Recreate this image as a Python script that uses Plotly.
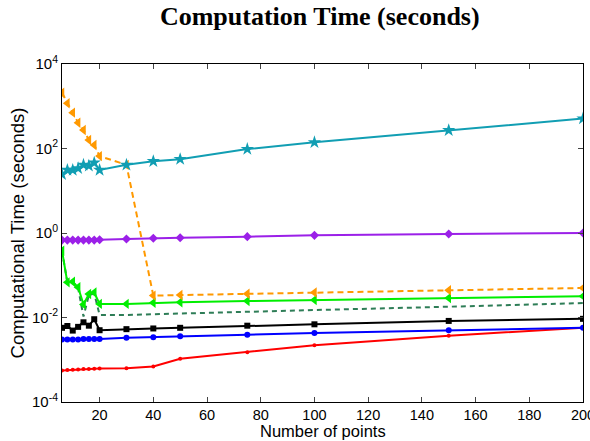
import plotly.graph_objects as go

x_pts = [6, 8, 10, 12, 14, 16, 18, 20, 30, 40, 50, 75, 100, 150, 200]

cyan_star = [24.5, 31, 31, 34, 41, 39, 46, 31, 41, 50, 56, 97, 140, 270, 510]
purple_diamond = [0.68, 0.68, 0.68, 0.68, 0.68, 0.68, 0.68, 0.69, 0.72, 0.75, 0.77, 0.82, 0.88, 0.95, 1.0]
orange_tri = [2090, 1180, 705, 408, 273, 159, 121, 66, 41, 0.033, 0.034, 0.0365, 0.039, 0.044, 0.050]
green_tri = [0.38, 0.068, 0.070, 0.052, 0.0204, 0.036, 0.039, 0.021, 0.021, 0.0224, 0.023, 0.0245, 0.026, 0.029, 0.032]
darkgreen_dash = [0.38, 0.068, 0.070, 0.050, 0.0105, 0.034, 0.037, 0.0115, 0.0115, 0.012, 0.0125, 0.0138, 0.015, 0.018, 0.022]
black_sq = [0.0057, 0.0063, 0.0049, 0.0060, 0.0077, 0.0064, 0.0091, 0.0050, 0.0053, 0.0055, 0.0057, 0.0064, 0.0069, 0.0083, 0.0093]
blue_circ = [0.0030, 0.0030, 0.0030, 0.0030, 0.0031, 0.0031, 0.0031, 0.0031, 0.0033, 0.0034, 0.0036, 0.0039, 0.0043, 0.0050, 0.0057]
red_dot = [0.00056, 0.00057, 0.00058, 0.00059, 0.00060, 0.00060, 0.00061, 0.00062, 0.00063, 0.00069, 0.00106, 0.0015, 0.0022, 0.0037, 0.0057]

y_tickvals = [1e-4, 1e-2, 1, 1e2, 1e4]
y_ticktext = ["10<sup>-4</sup>", "10<sup>-2</sup>", "10<sup>0</sup>", "10<sup>2</sup>", "10<sup>4</sup>"]
x_tickvals = [20, 40, 60, 80, 100, 120, 140, 160, 180, 200]

fig = go.Figure()

def add(y, color, symbol, size, dash="solid", mode="lines+markers", width=2):
    fig.add_trace(go.Scatter(
        x=x_pts, y=y, mode=mode,
        line=dict(color=color, width=width, dash=dash),
        marker=dict(symbol=symbol, size=size, color=color),
        showlegend=False,
    ))

add(darkgreen_dash, "#2E7D57", "circle", 1, dash="5px,4px", mode="lines")
add(red_dot, "#FF0000", "circle", 4)
add(blue_circ, "#0000FF", "circle", 6)
add(black_sq, "#000000", "square", 6)
add(green_tri, "#00EE00", "triangle-left", 9)
add(orange_tri, "#FF9900", "triangle-left", 9, dash="6px,4px")
add(purple_diamond, "#9B20E8", "diamond", 7)
add(cyan_star, "#119EB3", "star", 10)

fig.update_layout(
    width=590, height=441,
    margin=dict(l=62, r=7, t=64, b=39, autoexpand=False),
    paper_bgcolor="white", plot_bgcolor="white",
    font=dict(family="Liberation Sans, Arial", size=15, color="black"),
    title=dict(text="<b>Computation Time (seconds)</b>", x=0.542, xanchor="center",
               y=0.965, yanchor="middle",
               font=dict(family="Liberation Serif, Times New Roman", size=26, color="black")),
    annotations=[dict(text="Number of points", xref="paper", yref="paper",
                      x=0.50, y=-0.0858, xanchor="center", yanchor="middle",
                      showarrow=False, font=dict(size=16.5))],
)
fig.update_xaxes(
    range=[6, 200], tickvals=x_tickvals, ticks="inside", ticklen=5,
    ticklabeloverflow="allow", automargin=False, ticklabelstandoff=0,
    tickfont=dict(size=14.5),
    showline=True, linecolor="black", linewidth=1, mirror="ticks",
    showgrid=False, zeroline=False,
)
fig.update_yaxes(
    type="log", range=[-4, 4], tickvals=y_tickvals, ticktext=y_ticktext,
    ticks="inside", ticklen=5, automargin=False,
    showline=True, linecolor="black", linewidth=1, mirror="ticks",
    showgrid=False, zeroline=False,
    title=dict(text="Computational Time (seconds)", font=dict(size=18.5), standoff=2),
)

fig.write_html("out.html")
